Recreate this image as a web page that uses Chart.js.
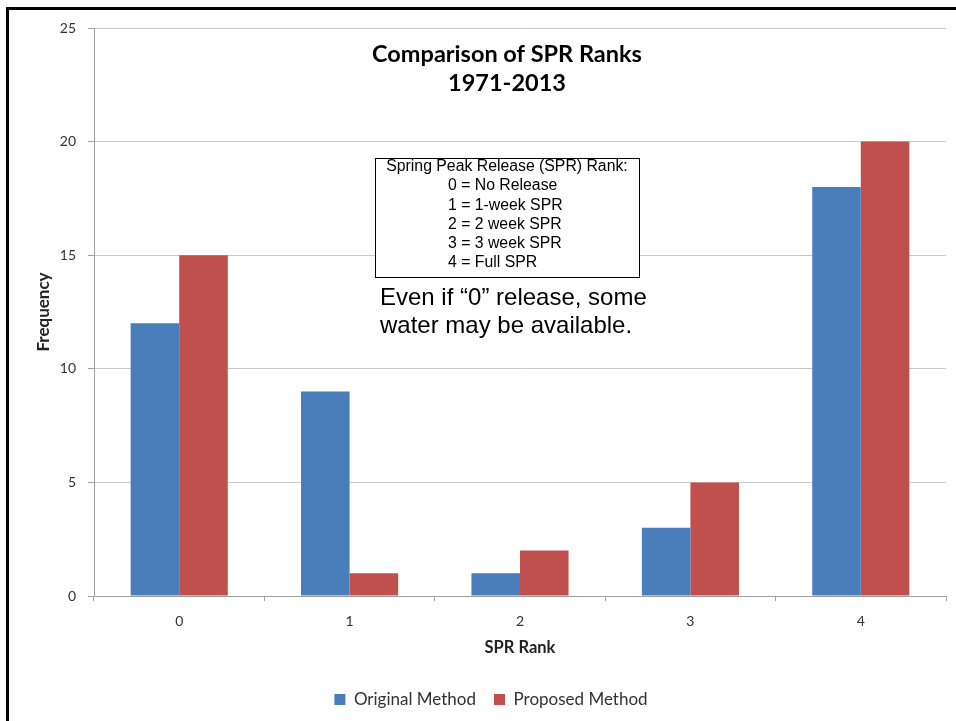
<!DOCTYPE html>
<html>
<head>
<meta charset="utf-8">
<script src="https://cdn.jsdelivr.net/npm/chart.js@4/dist/chart.umd.min.js"></script>
<style>
  html, body { margin: 0; padding: 0; background: #fff; overflow: hidden; }
  #wrap { position: absolute; left: 0; top: 0; width: 956px; height: 721px; overflow: hidden; }
  #frame {
      position: absolute; left: 6px; top: 7px; width: 980px; height: 740px;
      border-top: 3px solid #000; border-left: 3px solid #000; pointer-events: none;
  }
</style>
</head>
<body>
<div id="wrap">
  <canvas id="chart" width="956" height="721"></canvas>
  <div id="frame"></div>
</div>
<script>
// ── Data ───────────────────────────────────────────────────
const categories    = ["0", "1", "2", "3", "4"];
const originalVals  = [12, 9, 1, 3, 18];
const proposedVals  = [15, 1, 2, 5, 20];
const yTicks        = [0, 5, 10, 15, 20, 25];
const titleLines    = ["Comparison of SPR Ranks", "1971-2013"];
const keyLines      = ["0 = No Release", "1 = 1-week SPR", "2 = 2 week SPR", "3 = 3 week SPR", "4 = Full SPR"];
const keyHeader     = "Spring Peak Release (SPR) Rank:";
const noteLines     = ["Even if \u201C0\u201D release, some", "water may be available."];

const CAL = "Lato, 'Open Sans', sans-serif";
const ARIAL = "'Liberation Sans', Arial, sans-serif";

// ── Overlay text: title, rank key and note ─────────────────
const overlayText = {
    id: "overlayText",
    afterLayout(chart) {
        // legend sits a bit right of the canvas centre in the original
        if (chart.legend) {
            chart.legend.left += 18;
            chart.legend.right += 18;
        }
    },
    afterDraw(chart) {
        const ctx = chart.ctx;
        ctx.save();
        ctx.fillStyle = "#000";
        ctx.textBaseline = "middle";

        // Title
        ctx.textAlign = "center";
        ctx.font = "bold 23.5px " + CAL;
        ctx.fillText(titleLines[0], 507, 54);
        ctx.fillText(titleLines[1], 507, 83);

        // Rank key box
        ctx.fillStyle = "#fff";
        ctx.fillRect(375, 158, 264, 119);
        ctx.strokeStyle = "#000";
        ctx.lineWidth = 1;
        ctx.strokeRect(375.5, 158.5, 264, 119);
        ctx.fillStyle = "#000";
        ctx.font = "15.8px " + ARIAL;
        ctx.textAlign = "center";
        ctx.fillText(keyHeader, 507, 167);
        ctx.textAlign = "left";
        keyLines.forEach((t, i) => ctx.fillText(t, 448, 186 + i * 19.2));

        // Note
        ctx.font = "24px " + ARIAL;
        ctx.fillText(noteLines[0], 380, 298);
        ctx.fillText(noteLines[1], 380, 326);
        ctx.restore();
    },
};

// ── Chart ──────────────────────────────────────────────────
const ctx = document.getElementById("chart").getContext("2d");
new Chart(ctx, {
    type: "bar",
    data: {
        labels: categories,
        datasets: [
            {
                label: "Original Method",
                data: originalVals,
                backgroundColor: "#4a7ebb",
                borderWidth: 0,
            },
            {
                label: "Proposed Method",
                data: proposedVals,
                backgroundColor: "#c0504d",
                borderWidth: 0,
            },
        ],
    },
    options: {
        responsive: false,
        animation: false,
        devicePixelRatio: 1,
        categoryPercentage: 0.57,
        barPercentage: 1.0,
        layout: { padding: { left: 0, right: 10, top: 28, bottom: 3 } },
        plugins: {
            legend: {
                position: "bottom",
                labels: {
                    font: { family: CAL, size: 17 },
                    color: "#333",
                    boxWidth: 11,
                    boxHeight: 11,
                    padding: 18,
                },
            },
            tooltip: { enabled: false },
        },
        scales: {
            x: {
                grid: {
                    display: true,
                    drawOnChartArea: false,
                    tickLength: 5,
                    color: "#a0a0a0",
                },
                border: { color: "#a0a0a0" },
                ticks: {
                    font: { family: CAL, size: 14 },
                    color: "#333",
                    padding: 12,
                },
                title: {
                    display: true,
                    text: "SPR Rank",
                    font: { family: CAL, size: 16.5, weight: "bold" },
                    color: "#222",
                    padding: { top: 0, bottom: 15 },
                },
                afterFit(scale) { scale.height = 77; },
            },
            y: {
                min: 0,
                max: 25,
                afterBuildTicks(scale) { scale.ticks = yTicks.map(v => ({ value: v })); },
                grid: {
                    color: "#c8c8c8",
                    tickLength: 6,
                    tickColor: "#a0a0a0",
                },
                border: { color: "#a0a0a0" },
                ticks: {
                    font: { family: CAL, size: 14 },
                    color: "#333",
                    padding: 12,
                },
                title: {
                    display: true,
                    text: "Frequency",
                    font: { family: CAL, size: 17, weight: "bold" },
                    color: "#222",
                    padding: { top: 33, bottom: 0 },
                },
                afterFit(scale) { scale.width = 94; },
            },
        },
    },
    plugins: [overlayText],
});
</script>
</body>
</html>
